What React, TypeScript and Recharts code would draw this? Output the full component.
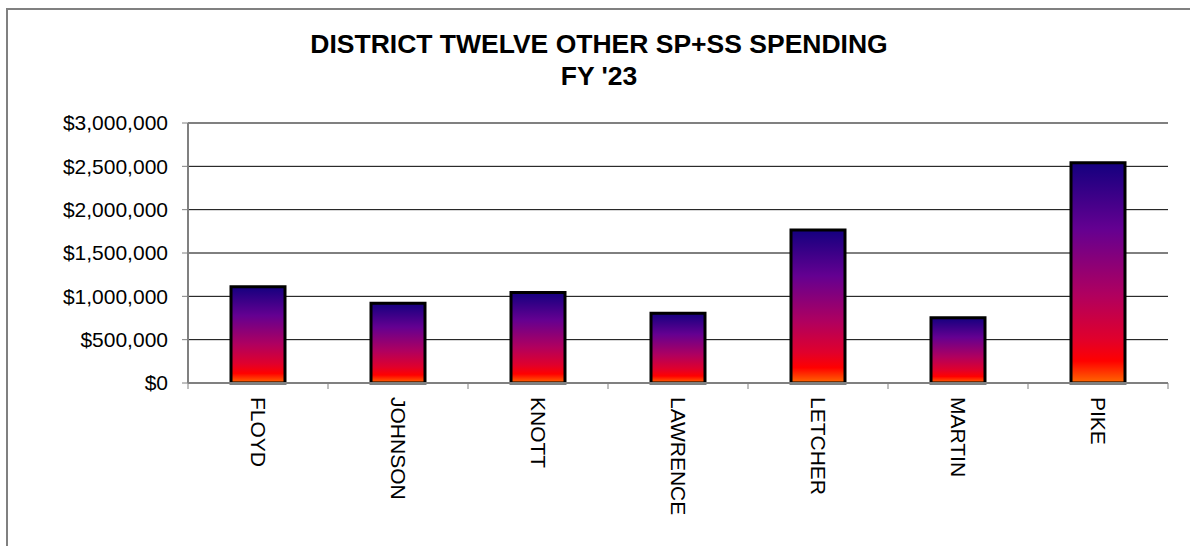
import React from 'react';
import { BarChart, Bar, XAxis, YAxis, CartesianGrid, ReferenceLine } from 'recharts';

const counties = ['FLOYD', 'JOHNSON', 'KNOTT', 'LAWRENCE', 'LETCHER', 'MARTIN', 'PIKE'];
const spending = [1112000, 921000, 1043000, 805000, 1766000, 754000, 2542000];
const yTicks = [0, 500000, 1000000, 1500000, 2000000, 2500000, 3000000];
const titleLines = ['DISTRICT TWELVE OTHER SP+SS SPENDING', "FY '23"];

const chartData = counties.map((name, i) => ({ name, amount: spending[i] }));
// tick marks sit between categories, like the spreadsheet original
const categoryEdges = [...counties.map((_, i) => i), counties.length];

const FONT = '"Liberation Sans", Arial, sans-serif';
const GRAY = '#808080';

const CountyTick = (props: any) => {
  const { x, y, payload } = props;
  return (
    <text
      x={x}
      y={y}
      transform={`rotate(90, ${x}, ${y})`}
      textAnchor="start"
      dominantBaseline="central"
      fontFamily={FONT}
      fontSize={21}
      fill="#000"
    >
      {payload.value}
    </text>
  );
};

const App: React.FC = () => {
  return (
    <div
      style={{
        position: 'absolute',
        left: 6,
        top: 8,
        width: 1184,
        height: 538,
        overflow: 'hidden',
        background: '#fff',
      }}
    >
      <div style={{ position: 'absolute', left: 0, top: 0, width: 2, height: 538, background: GRAY }} />
      <div style={{ position: 'absolute', left: 0, top: 0, width: 1184, height: 2, background: GRAY }} />
      <div
        style={{
          position: 'absolute',
          top: 20,
          left: 2,
          width: 1182,
          textAlign: 'center',
          fontFamily: FONT,
          fontWeight: 'bold',
          fontSize: 26.5,
          lineHeight: '32px',
          color: '#000',
        }}
      >
        {titleLines.map((t) => (
          <div key={t}>{t}</div>
        ))}
      </div>
      <div style={{ position: 'absolute', left: 2, top: 0 }}>
        <BarChart
          width={1182}
          height={530}
          data={chartData}
          margin={{ top: 115, right: 22, bottom: 55, left: 70 }}
        >
          <defs>
            <linearGradient id="barFill" x1="0" y1="0" x2="0" y2="1">
              <stop offset="0%" stopColor="#14007f" />
              <stop offset="30%" stopColor="#640091" />
              <stop offset="60%" stopColor="#b0005f" />
              <stop offset="80%" stopColor="#e0002c" />
              <stop offset="90%" stopColor="#ff0000" />
              <stop offset="100%" stopColor="#ff6a00" />
            </linearGradient>
          </defs>
          <CartesianGrid vertical={false} stroke="#000" strokeWidth={1} />
          <XAxis
            type="number"
            dataKey={() => 0}
            domain={[0, counties.length]}
            ticks={categoryEdges}
            interval={0}
            allowDataOverflow
            height={1}
            tick={{ fontSize: 0, fill: 'none' }}
            tickFormatter={() => ''}
            tickLine={{ stroke: GRAY, strokeWidth: 1 }}
            tickSize={6}
            axisLine={{ stroke: GRAY, strokeWidth: 2 }}
          />
          <XAxis
            xAxisId="cat"
            dataKey="name"
            height={99}
            tickLine={false}
            tickSize={0}
            tickMargin={13}
            axisLine={false}
            interval={0}
            tick={<CountyTick />}
          />
          <YAxis
            domain={[0, 3000000]}
            ticks={yTicks}
            width={110}
            tickSize={6}
            tickMargin={14}
            tickLine={{ stroke: GRAY, strokeWidth: 1 }}
            axisLine={{ stroke: GRAY, strokeWidth: 2 }}
            tick={{ fill: '#000', fontSize: 21, fontFamily: FONT }}
            tickFormatter={(v: number) => `$${v.toLocaleString('en-US')}`}
          />
          <YAxis
            yAxisId="right"
            orientation="right"
            domain={[0, 3000000]}
            width={0}
            tick={false}
            tickLine={false}
            axisLine={{ stroke: GRAY, strokeWidth: 2 }}
          />
          <ReferenceLine y={3000000} stroke={GRAY} strokeWidth={2} />
          <Bar
            xAxisId="cat"
            dataKey="amount"
            fill="url(#barFill)"
            stroke="#000"
            strokeWidth={3}
            barSize={54}
            isAnimationActive={false}
          />
        </BarChart>
      </div>
    </div>
  );
};

export default App;
